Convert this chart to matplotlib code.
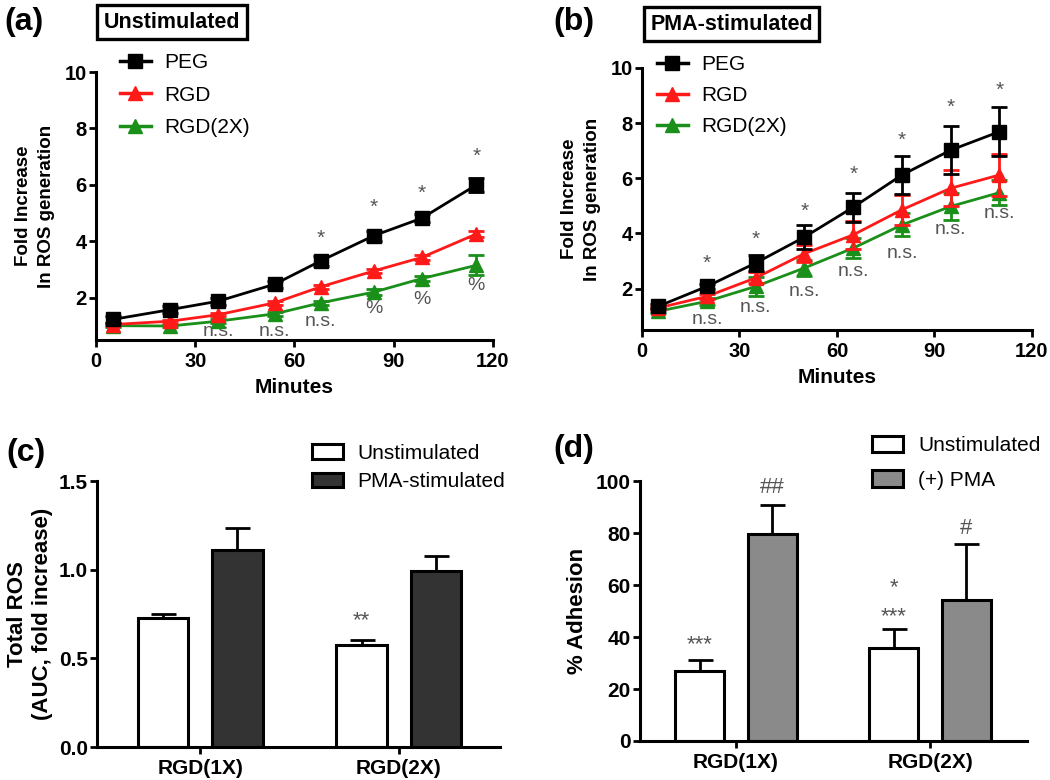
import matplotlib
matplotlib.use("Agg")
import matplotlib.pyplot as plt
from matplotlib.lines import Line2D
import numpy as np

plt.rcParams['font.family'] = ['Liberation Sans', 'DejaVu Sans']

# ---------------- data ----------------
# Panel (a): unstimulated
a_minutes = [5, 22.5, 37, 54, 68, 84, 98.5, 115]
a_peg = [1.23, 1.58, 1.88, 2.48, 3.31, 4.20, 4.82, 6.00]
a_peg_err = [0.12, 0.12, 0.12, 0.12, 0.18, 0.18, 0.15, 0.25]
a_rgd = [1.05, 1.17, 1.40, 1.82, 2.39, 2.95, 3.43, 4.26]
a_rgd_err = [0.05, 0.05, 0.05, 0.07, 0.08, 0.08, 0.08, 0.10]
a_rgd2 = [1.01, 1.00, 1.17, 1.43, 1.82, 2.20, 2.68, 3.15]
a_rgd2_err = [0.05, 0.05, 0.08, 0.08, 0.08, 0.10, 0.10, 0.35]
a_star_pos = [68, 84, 98.5, 115]
a_star_y = [4.1, 5.2, 5.7, 7.0]
a_ns_pos = [37, 54, 68]
a_ns_y = [0.82, 0.82, 1.17]
a_pct_pos = [84, 98.5, 115]
a_pct_y = [1.62, 1.93, 2.42]

# Panel (b): PMA-stimulated
b_minutes = [5, 20, 35, 50, 65, 80, 95, 110]
b_peg = [1.36, 2.08, 2.93, 3.87, 4.95, 6.12, 7.02, 7.69]
b_peg_err = [0.08, 0.10, 0.30, 0.45, 0.53, 0.68, 0.88, 0.90]
b_rgd = [1.30, 1.72, 2.39, 3.27, 3.95, 4.86, 5.64, 6.12]
b_rgd_err = [0.08, 0.10, 0.20, 0.30, 0.50, 0.55, 0.65, 0.75]
b_rgd2 = [1.18, 1.54, 2.08, 2.75, 3.47, 4.31, 4.98, 5.48]
b_rgd2_err = [0.08, 0.12, 0.35, 0.30, 0.36, 0.42, 0.50, 0.46]
b_star_pos = [20, 35, 50, 65, 80, 95, 110]
b_star_y = [2.93, 3.77, 4.80, 6.16, 7.39, 8.57, 9.20]
b_ns_pos = [20, 35, 50, 65, 80, 95, 110]
b_ns_y = [0.88, 1.30, 1.90, 2.63, 3.29, 4.13, 4.73]

# Panel (c): Total ROS
c_groups = ["RGD(1X)", "RGD(2X)"]
c_unstim = [0.727, 0.573]
c_unstim_err = [0.022, 0.031]
c_pma = [1.111, 0.993]
c_pma_err = [0.122, 0.085]

# Panel (d): adhesion
d_groups = ["RGD(1X)", "RGD(2X)"]
d_unstim = [27.0, 35.6]
d_unstim_err = [4.3, 7.3]
d_pma = [79.5, 54.4]
d_pma_err = [11.1, 21.3]

# ---------------- figure ----------------
fig = plt.figure(figsize=(10.5, 7.8), dpi=100)

ax_a = fig.add_axes([0.0914, 0.564, 0.378, 0.3436])
ax_b = fig.add_axes([0.6114, 0.5769, 0.3714, 0.336])
ax_c = fig.add_axes([0.0924, 0.0423, 0.3838, 0.341])
ax_d = fig.add_axes([0.6095, 0.050, 0.3686, 0.3333])

ANN = '#555555'
GREEN = '#1a8f1a'
RED = '#ff1a1a'


def style(ax, labelsize=14.5):
    for s in ['top', 'right']:
        ax.spines[s].set_visible(False)
    for s in ['left', 'bottom']:
        ax.spines[s].set_linewidth(2.2)
    ax.tick_params(width=2, length=5, labelsize=labelsize)
    ax.tick_params(axis='y', pad=1.5)
    for lab in ax.get_xticklabels() + ax.get_yticklabels():
        lab.set_fontweight('bold')


def line_panel(ax, x, peg, pe, rgd, re, rgd2, r2e, leg_anchor, lsp):
    kw = dict(linewidth=2, capsize=6, capthick=2, elinewidth=2, markersize=10)
    ax.errorbar(x, rgd2, yerr=r2e, color=GREEN, marker='^', zorder=3, **kw)
    ax.errorbar(x, rgd, yerr=re, color=RED, marker='^', zorder=4, **kw)
    ax.errorbar(x, peg, yerr=pe, color='black', marker='s', zorder=5, **kw)
    ax.set_xlim(0, 120)
    ax.set_ylim(0.5, 10)
    ax.set_xticks([0, 30, 60, 90, 120])
    ax.set_yticks([2, 4, 6, 8, 10])
    ax.set_xlabel('Minutes', fontsize=15, fontweight='bold', labelpad=5)
    ax.set_ylabel('Fold Increase\nIn ROS generation', fontsize=13.5, fontweight='bold',
                  labelpad=7, linespacing=1.45)
    style(ax)
    handles = [Line2D([], [], color='black', marker='s', lw=2.5, markersize=10),
               Line2D([], [], color=RED, marker='^', lw=2.5, markersize=10),
               Line2D([], [], color=GREEN, marker='^', lw=2.5, markersize=10)]
    ax.legend(handles, ['PEG', 'RGD', 'RGD(2X)'], loc='upper left',
              bbox_to_anchor=leg_anchor, frameon=False, fontsize=15,
              handlelength=1.5, handletextpad=0.65, labelspacing=lsp,
              borderaxespad=0, borderpad=0)


line_panel(ax_a, a_minutes, a_peg, a_peg_err, a_rgd, a_rgd_err, a_rgd2, a_rgd2_err,
           (0.06, 1.07), 0.64)
line_panel(ax_b, b_minutes, b_peg, b_peg_err, b_rgd, b_rgd_err, b_rgd2, b_rgd2_err,
           (0.038, 1.05), 0.58)

for xp, yp in zip(a_star_pos, a_star_y):
    ax_a.text(xp, yp, '*', ha='center', va='center', fontsize=15, color=ANN)
for xp, yp in zip(a_ns_pos, a_ns_y):
    ax_a.text(xp, yp, 'n.s.', ha='center', va='center', fontsize=14, color=ANN)
for xp, yp in zip(a_pct_pos, a_pct_y):
    ax_a.text(xp, yp, '%', ha='center', va='center', fontsize=14, color=ANN)
for xp, yp in zip(b_star_pos, b_star_y):
    ax_b.text(xp, yp, '*', ha='center', va='center', fontsize=15, color=ANN)
for xp, yp in zip(b_ns_pos, b_ns_y):
    ax_b.text(xp, yp, 'n.s.', ha='center', va='center', fontsize=14, color=ANN)

# Title boxes
fig.text(172 / 1050, 1 - 22 / 780, 'Unstimulated', ha='center', va='center',
         fontsize=15.5, fontweight='bold',
         bbox=dict(boxstyle='square,pad=0.3', fc='white', ec='black', lw=2.4))
fig.text(731.5 / 1050, 1 - 24 / 780, 'PMA-stimulated', ha='center', va='center',
         fontsize=15.5, fontweight='bold',
         bbox=dict(boxstyle='square,pad=0.3', fc='white', ec='black', lw=2.4))

# Panel labels
fig.text(4 / 1050, 1 - 22 / 780, '(a)', fontsize=23, fontweight='bold', va='center', ha='left')
fig.text(553 / 1050, 1 - 22 / 780, '(b)', fontsize=23, fontweight='bold', va='center', ha='left')
fig.text(6 / 1050, 1 - 453 / 780, '(c)', fontsize=23, fontweight='bold', va='center', ha='left')
fig.text(553 / 1050, 1 - 449 / 780, '(d)', fontsize=23, fontweight='bold', va='center', ha='left')


def bar_panel(ax, groups, u, ue, p, pe, pcolor, labels, ylim, yticks, ylabel, xlim,
              leg_anchor, hh, lsp, lpad):
    pos = np.arange(len(groups))
    off = 0.187
    w = 0.255
    ekw = dict(elinewidth=2, capsize=9, capthick=2, ecolor='black')
    ax.bar(pos - off, u, w, yerr=[np.zeros(len(u)), ue], color='white', edgecolor='black',
           linewidth=2.2, label=labels[0], error_kw=ekw, zorder=2)
    ax.bar(pos + off, p, w, yerr=[np.zeros(len(p)), pe], color=pcolor, edgecolor='black',
           linewidth=2.2, label=labels[1], error_kw=ekw, zorder=2)
    ax.set_xticks(pos)
    ax.set_xticklabels(groups)
    ax.set_xlim(*xlim)
    ax.set_ylim(*ylim)
    ax.set_yticks(yticks)
    ax.set_ylabel(ylabel, fontsize=16, fontweight='bold', labelpad=lpad, linespacing=1.25)
    style(ax, labelsize=15)
    ax.legend(loc='upper left', bbox_to_anchor=leg_anchor, frameon=False, fontsize=15,
              handlelength=1.5, handleheight=hh, handletextpad=0.7, labelspacing=lsp,
              borderaxespad=0, borderpad=0)


bar_panel(ax_c, c_groups, c_unstim, c_unstim_err, c_pma, c_pma_err, '#333333',
          ['Unstimulated', 'PMA-stimulated'], (0, 1.5), [0.0, 0.5, 1.0, 1.5],
          'Total ROS\n(AUC, fold increase)', (-0.52, 1.51), (0.533, 1.14), 0.7, 0.45, 4)
ax_c.set_yticklabels(['0.0', '0.5', '1.0', '1.5'], fontweight='bold')
ax_c.text(1 - 0.187, 0.715, '**', ha='center', va='center', fontsize=16, color=ANN)

bar_panel(ax_d, d_groups, d_unstim, d_unstim_err, d_pma, d_pma_err, '#8a8a8a',
          ['Unstimulated', '(+) PMA'], (0, 100), [0, 20, 40, 60, 80, 100],
          '% Adhesion', (-0.495, 1.5), (0.6, 1.175), 0.85, 0.72, 6)
ax_d.text(0 - 0.187, 37.0, '***', ha='center', va='center', fontsize=16, color=ANN)
ax_d.text(0 + 0.187, 97.5, '##', ha='center', va='center', fontsize=16, color=ANN)
ax_d.text(1 - 0.187, 59.0, '*', ha='center', va='center', fontsize=16, color=ANN)
ax_d.text(1 - 0.187, 48.0, '***', ha='center', va='center', fontsize=16, color=ANN)
ax_d.text(1 + 0.187, 81.7, '#', ha='center', va='center', fontsize=16, color=ANN)

fig.savefig('out.png', dpi=100)
